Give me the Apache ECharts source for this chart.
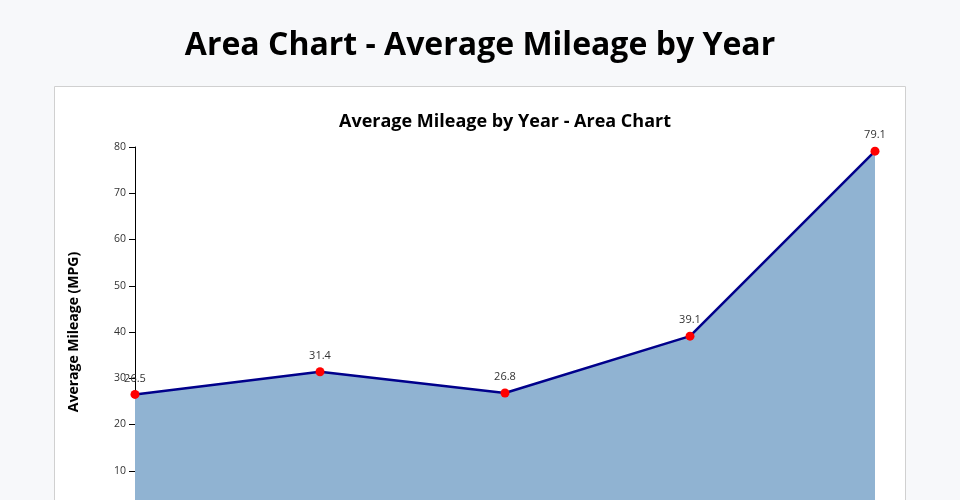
<!DOCTYPE html>
<html><head><meta charset="utf-8">
<script src="https://cdn.jsdelivr.net/npm/echarts@6/dist/echarts.min.js"></script>
<style>
html,body{margin:0;padding:0;width:960px;height:500px;overflow:hidden;background:#f7f8fa;}
#c{width:960px;height:560px;}
</style></head><body>
<div id="c"></div>
<script>
const years = ['2019', '2020', '2021', '2022', '2023'];
const mileage = [26.5, 31.4, 26.8, 39.1, 79.1];
const yTicks = [0, 10, 20, 30, 40, 50, 60, 70, 80];

const chart = echarts.init(document.getElementById('c'), null, {renderer: 'canvas'});
const FONT = '"Open Sans", "Noto Sans", sans-serif';
chart.setOption({
  backgroundColor: '#f7f8fa',
  animation: false,
  textStyle: {fontFamily: FONT},
  graphic: [{
    type: 'rect', z: -10,
    shape: {x: 54.5, y: 86.5, width: 851, height: 600},
    style: {fill: '#ffffff', stroke: '#d0d0d0', lineWidth: 1}
  }],
  title: [{
    text: 'Area Chart - Average Mileage by Year',
    left: 'center', top: 25,
    textStyle: {fontFamily: FONT, fontSize: 32, fontWeight: 'bold', color: '#000'}
  }, {
    text: 'Average Mileage by Year - Area Chart',
    left: 500, textAlign: 'center', top: 108,
    textStyle: {fontFamily: FONT, fontSize: 18, fontWeight: 'bold', color: '#000'}
  }],
  grid: {left: 135, right: 85, top: 147, bottom: 43, containLabel: false},
  xAxis: {
    type: 'category', data: years, boundaryGap: false,
    axisLine: {lineStyle: {color: '#000'}},
    axisTick: {show: true, lineStyle: {color: '#000'}},
    axisLabel: {color: '#333', fontSize: 10}
  },
  yAxis: {
    type: 'value', min: yTicks[0], max: yTicks[yTicks.length - 1], interval: 10,
    name: 'Average Mileage (MPG)', nameLocation: 'middle', nameGap: 54,
    nameTextStyle: {fontFamily: FONT, fontSize: 14, fontWeight: 'bold', color: '#000'},
    axisLine: {show: true, lineStyle: {color: '#000'}},
    axisTick: {show: true, length: 6, lineStyle: {color: '#000'}},
    axisLabel: {color: '#333', fontSize: 10.5, margin: 9},
    splitLine: {show: false}
  },
  series: [{
    type: 'line', data: mileage,
    lineStyle: {color: '#00008b', width: 2.5},
    areaStyle: {color: '#90b3d2', opacity: 1, origin: 'start'},
    symbol: 'circle', symbolSize: 9,
    itemStyle: {color: '#ff0000', borderWidth: 0},
    label: {show: true, position: 'top', distance: 6, color: '#333', fontSize: 11, fontFamily: FONT}
  }]
});
</script>
</body></html>
